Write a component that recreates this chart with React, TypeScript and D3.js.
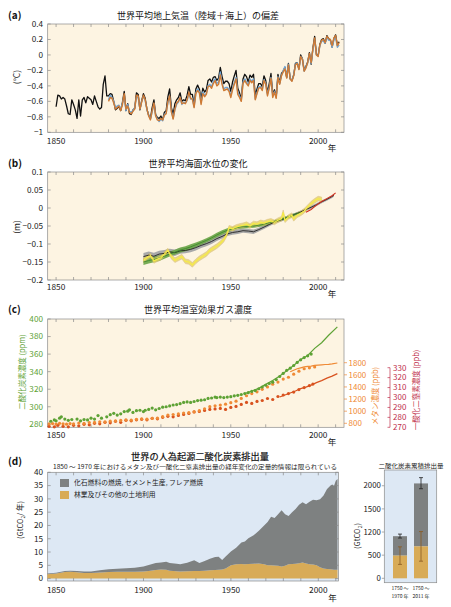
import React from 'react';
import * as d3 from 'd3';

const FONT = "'Noto Sans CJK JP','Noto Sans',sans-serif";

// ---------- (a) temperature anomaly (°C) ----------
const blackStart = 1850;
const tempBlack = [
  -0.67, -0.52, -0.53, -0.57, -0.55, -0.57, -0.66, -0.76, -0.77, -0.58,
  -0.64, -0.71, -0.82, -0.58, -0.79, -0.58, -0.55, -0.62, -0.54, -0.56,
  -0.58, -0.64, -0.53, -0.60, -0.67, -0.70, -0.68, -0.38, -0.27, -0.53,
  -0.53, -0.50, -0.51, -0.60, -0.71, -0.69, -0.67, -0.72, -0.61, -0.47,
  -0.72, -0.63, -0.76, -0.77, -0.71, -0.69, -0.49, -0.51, -0.71, -0.59,
  -0.50, -0.56, -0.70, -0.78, -0.82, -0.68, -0.58, -0.77, -0.81, -0.82,
  -0.79, -0.84, -0.74, -0.72, -0.54, -0.44, -0.68, -0.77, -0.63, -0.58,
  -0.55, -0.49, -0.60, -0.58, -0.59, -0.52, -0.41, -0.51, -0.51, -0.65,
  -0.44, -0.39, -0.44, -0.57, -0.43, -0.48, -0.45, -0.33, -0.31, -0.35,
  -0.29, -0.28, -0.33, -0.30, -0.16, -0.28, -0.37, -0.34, -0.34, -0.37,
  -0.47, -0.35, -0.27, -0.20, -0.43, -0.49, -0.57, -0.31, -0.25, -0.28,
  -0.35, -0.26, -0.29, -0.25, -0.52, -0.44, -0.37, -0.37, -0.41, -0.27,
  -0.33, -0.49, -0.37, -0.24, -0.51, -0.45, -0.54, -0.25, -0.36, -0.24,
  -0.21, -0.16, -0.29, -0.11, -0.31, -0.33, -0.26, -0.11, -0.10, -0.18,
  0.0, -0.05, -0.20, -0.15, -0.09, 0.03, -0.12, 0.09, 0.24, 0.01,
  -0.01, 0.14, 0.20, 0.21, 0.15, 0.25, 0.21, 0.19, 0.10, 0.21,
  0.26, 0.13, 0.17,
];
const colorStart = 1880;
const tempBlue = [
  -0.58, -0.52, -0.55, -0.60, -0.68, -0.66, -0.65, -0.70, -0.62, -0.52,
  -0.72, -0.64, -0.73, -0.74, -0.72, -0.68, -0.55, -0.55, -0.70, -0.60,
  -0.53, -0.59, -0.71, -0.78, -0.83, -0.74, -0.63, -0.78, -0.83, -0.86,
  -0.83, -0.85, -0.77, -0.75, -0.62, -0.54, -0.72, -0.82, -0.71, -0.64,
  -0.61, -0.55, -0.64, -0.61, -0.62, -0.59, -0.49, -0.57, -0.56, -0.67,
  -0.49, -0.44, -0.47, -0.62, -0.48, -0.52, -0.50, -0.40, -0.38, -0.41,
  -0.34, -0.31, -0.37, -0.35, -0.22, -0.36, -0.44, -0.42, -0.42, -0.45,
  -0.53, -0.43, -0.36, -0.29, -0.48, -0.53, -0.59, -0.35, -0.31, -0.35,
  -0.39, -0.31, -0.34, -0.31, -0.57, -0.49, -0.41, -0.41, -0.45, -0.32,
  -0.37, -0.51, -0.42, -0.29, -0.53, -0.47, -0.55, -0.28, -0.37, -0.27,
  -0.20, -0.15, -0.29, -0.12, -0.30, -0.33, -0.26, -0.12, -0.10, -0.18,
  -0.02, -0.05, -0.21, -0.16, -0.10, 0.01, -0.11, 0.07, 0.20, 0.0,
  -0.01, 0.12, 0.18, 0.18, 0.15, 0.23, 0.19, 0.19, 0.10, 0.19,
  0.23, 0.10, 0.13,
];
const tempOrange = [
  -0.60, -0.55, -0.56, -0.62, -0.70, -0.68, -0.66, -0.72, -0.64, -0.50,
  -0.70, -0.66, -0.74, -0.76, -0.73, -0.70, -0.52, -0.53, -0.70, -0.61,
  -0.52, -0.58, -0.70, -0.79, -0.84, -0.72, -0.62, -0.79, -0.84, -0.85,
  -0.82, -0.84, -0.78, -0.76, -0.60, -0.53, -0.74, -0.83, -0.70, -0.62,
  -0.60, -0.55, -0.63, -0.62, -0.63, -0.58, -0.48, -0.56, -0.57, -0.68,
  -0.50, -0.46, -0.49, -0.64, -0.50, -0.54, -0.51, -0.41, -0.40, -0.43,
  -0.37, -0.33, -0.40, -0.38, -0.26, -0.38, -0.46, -0.45, -0.44, -0.47,
  -0.55, -0.45, -0.38, -0.31, -0.51, -0.55, -0.60, -0.37, -0.33, -0.37,
  -0.40, -0.33, -0.36, -0.33, -0.58, -0.50, -0.43, -0.42, -0.46, -0.33,
  -0.38, -0.53, -0.43, -0.30, -0.55, -0.48, -0.56, -0.29, -0.38, -0.27,
  -0.22, -0.18, -0.30, -0.13, -0.31, -0.34, -0.27, -0.13, -0.11, -0.19,
  -0.02, -0.06, -0.21, -0.17, -0.10, 0.02, -0.10, 0.08, 0.22, 0.0,
  -0.02, 0.13, 0.19, 0.20, 0.16, 0.24, 0.21, 0.20, 0.12, 0.22,
  0.25, 0.12, 0.16,
];
const tempTicks = [-1, -0.8, -0.6, -0.4, -0.2, 0, 0.2, 0.4];

// ---------- (b) sea level (m) ----------
const cwYears = [1900, 1903, 1906, 1909, 1912, 1915, 1918, 1921, 1924, 1927, 1930, 1933, 1936, 1939, 1942, 1945, 1948, 1951, 1954, 1957, 1960, 1963, 1966, 1969, 1972, 1975, 1978, 1981, 1984, 1987, 1990, 1993, 1996, 1999, 2002, 2005, 2008, 2009];
const cwLevel = [-0.135, -0.131, -0.134, -0.128, -0.126, -0.122, -0.124, -0.119, -0.118, -0.115, -0.110, -0.104, -0.099, -0.093, -0.085, -0.079, -0.072, -0.068, -0.066, -0.063, -0.064, -0.066, -0.060, -0.053, -0.046, -0.039, -0.034, -0.029, -0.023, -0.017, -0.011, -0.004, 0.002, 0.009, 0.017, 0.024, 0.032, 0.035];
const cwUnc = [0.010, 0.010, 0.010, 0.009, 0.009, 0.009, 0.009, 0.008, 0.008, 0.008, 0.008, 0.007, 0.007, 0.007, 0.007, 0.006, 0.006, 0.006, 0.006, 0.006, 0.006, 0.006, 0.005, 0.005, 0.005, 0.005, 0.005, 0.005, 0.005, 0.004, 0.004, 0.004, 0.004, 0.004, 0.004, 0.004, 0.004, 0.004];
const rdYears = [1900, 1903, 1906, 1909, 1912, 1915, 1918, 1921, 1924, 1927, 1930, 1933, 1936, 1939, 1942, 1945, 1948, 1951, 1954, 1957, 1960, 1963, 1966, 1969, 1972, 1975, 1978, 1981, 1984, 1987, 1990];
const rdLevel = [-0.150, -0.146, -0.143, -0.139, -0.134, -0.128, -0.123, -0.117, -0.113, -0.108, -0.102, -0.096, -0.090, -0.083, -0.075, -0.068, -0.062, -0.058, -0.054, -0.052, -0.051, -0.050, -0.048, -0.045, -0.041, -0.037, -0.033, -0.028, -0.023, -0.018, -0.012];
const rdUnc = [0.008, 0.008, 0.008, 0.008, 0.007, 0.007, 0.007, 0.007, 0.007, 0.007, 0.006, 0.006, 0.006, 0.006, 0.006, 0.006, 0.006, 0.005, 0.005, 0.005, 0.005, 0.005, 0.005, 0.005, 0.005, 0.004, 0.004, 0.004, 0.004, 0.004, 0.004];
const jvYears = [1900, 1902, 1904, 1906, 1908, 1910, 1912, 1914, 1916, 1918, 1920, 1922, 1924, 1926, 1928, 1930, 1932, 1934, 1936, 1938, 1940, 1942, 1944, 1946, 1948, 1949, 1951, 1953, 1955, 1957, 1959, 1961, 1963, 1965, 1967, 1969, 1971, 1973, 1975, 1977, 1979, 1980, 1981, 1983, 1985, 1986, 1988, 1990, 1992, 1994, 1996, 1998, 2000, 2002];
const jvLevel = [-0.145, -0.138, -0.132, -0.147, -0.142, -0.138, -0.128, -0.118, -0.135, -0.145, -0.140, -0.135, -0.148, -0.150, -0.158, -0.148, -0.140, -0.134, -0.128, -0.118, -0.112, -0.106, -0.098, -0.088, -0.070, -0.055, -0.058, -0.053, -0.050, -0.048, -0.045, -0.050, -0.043, -0.045, -0.040, -0.042, -0.038, -0.036, -0.040, -0.034, -0.030, -0.012, -0.034, -0.025, -0.020, -0.030, -0.020, -0.015, -0.008, 0.002, 0.012, 0.020, 0.026, 0.024];
const jvUnc = 0.0065;
const satYears = [1993, 1996, 1999, 2002, 2005, 2008, 2010];
const satLevel = [-0.012, -0.004, 0.008, 0.018, 0.026, 0.034, 0.042];
const seaTicks = [-0.2, -0.15, -0.1, -0.05, 0, 0.05, 0.1];

// ---------- (c) greenhouse gases ----------
const co2Dots: [number, number][] = [
  [1847, 283.5], [1849, 285], [1850, 284], [1852, 287], [1853, 288.5], [1855, 286], [1857, 284.5], [1859, 285.5], [1862, 286], [1864, 284],
  [1866, 285.5], [1868, 285], [1870, 287], [1872, 286], [1874, 290], [1876, 287], [1879, 288.5], [1881, 291], [1883, 292.5], [1885, 290.5],
  [1887, 292], [1889, 294.5], [1891, 295], [1892, 296.5], [1894, 293.5], [1896, 295.5], [1898, 296], [1900, 294.5], [1901, 296], [1903, 297],
  [1905, 298.5], [1907, 296.5], [1909, 298], [1911, 299.5], [1913, 300], [1915, 301], [1917, 302], [1919, 302.5], [1921, 303.5], [1923, 305],
  [1925, 305.5], [1927, 305], [1929, 306], [1931, 307], [1933, 307.5], [1935, 308], [1937, 309.5], [1939, 310], [1941, 311], [1942, 310.5],
  [1944, 311], [1946, 310.5], [1948, 311], [1950, 311.5], [1952, 312.5], [1954, 313], [1956, 314], [1958, 315], [1960, 316], [1962, 317.5],
  [1964, 318.5], [1966, 320.5], [1968, 322.5], [1970, 324.5], [1972, 326.5], [1974, 328], [1976, 331], [1978, 334.5], [1980, 338], [1982, 341.5],
  [1984, 344], [1986, 347], [1988, 350.5], [1990, 353.5], [1992, 356], [1994, 358], [1996, 360],
];
const co2LineYears = [1958, 1962, 1966, 1970, 1974, 1978, 1982, 1986, 1990, 1994, 1998, 2002, 2006, 2011];
const co2Line = [315, 318, 321, 325.5, 330, 335, 341, 347, 354, 358.5, 366.5, 373, 381.5, 391];
const ch4Dots: [number, number][] = [
  [1846, 790], [1848, 795], [1850, 788], [1852, 800], [1854, 792], [1856, 785], [1858, 796], [1860, 790], [1863, 805], [1866, 800],
  [1869, 812], [1872, 815], [1875, 825], [1878, 822], [1881, 835], [1884, 840], [1887, 848], [1890, 855], [1893, 852], [1896, 865],
  [1899, 872], [1902, 868], [1905, 880], [1908, 885], [1911, 910], [1914, 935], [1917, 945], [1920, 955], [1923, 970], [1926, 975],
  [1929, 990], [1932, 1010], [1935, 1040], [1938, 1075], [1941, 1090], [1944, 1100], [1947, 1115], [1950, 1140], [1953, 1165], [1956, 1210],
  [1959, 1255], [1962, 1290], [1965, 1320], [1968, 1360], [1971, 1400], [1974, 1445], [1977, 1480], [1980, 1530], [1983, 1560], [1986, 1610],
  [1989, 1660], [1992, 1700], [1995, 1715], [1998, 1730],
];
const ch4LineYears = [1984, 1986, 1988, 1990, 1992, 1994, 1996, 1998, 2000, 2002, 2004, 2006, 2008, 2011];
const ch4Line = [1650, 1675, 1700, 1715, 1730, 1740, 1745, 1755, 1760, 1765, 1770, 1772, 1780, 1795];
const n2oDots: [number, number][] = [
  [1846, 271], [1849, 270.5], [1851, 272], [1854, 271], [1857, 270.5], [1860, 272], [1863, 271.5], [1866, 273], [1869, 272.5], [1872, 274],
  [1875, 273.5], [1878, 275], [1881, 274.5], [1884, 276], [1887, 275], [1890, 277], [1893, 276.5], [1896, 277.5], [1899, 278], [1902, 277.5],
  [1905, 279], [1908, 278.5], [1911, 280], [1914, 281], [1917, 280.5], [1920, 282], [1923, 283], [1926, 284], [1929, 285.5], [1932, 286],
  [1935, 287], [1938, 288], [1941, 288.5], [1944, 289], [1947, 288], [1950, 290], [1953, 291], [1956, 293], [1959, 295], [1962, 294],
  [1965, 296], [1968, 297], [1971, 299], [1974, 298], [1977, 301], [1980, 302.5], [1983, 304], [1986, 305.5], [1989, 308], [1992, 310],
  [1995, 312], [1997, 313.5],
];
const n2oLineYears = [1978, 1981, 1984, 1987, 1990, 1993, 1996, 1999, 2002, 2005, 2008, 2011];
const n2oLine = [300.5, 302.5, 304.5, 306.5, 309, 310.5, 312.5, 315, 317, 319.5, 321.5, 324];
const co2Ticks = [280, 300, 320, 340, 360, 380, 400];
const ch4Ticks = [800, 1000, 1200, 1400, 1600, 1800];
const n2oTicks = [270, 280, 290, 300, 310, 320, 330];

// ---------- (d) CO2 emissions (GtCO2/yr) ----------
const emisYears = [1845, 1850, 1855, 1858, 1862, 1866, 1870, 1875, 1880, 1885, 1890, 1895, 1900, 1903, 1907, 1910, 1913, 1915, 1919, 1921, 1925, 1929, 1932, 1935, 1938, 1941, 1943, 1945, 1947, 1950, 1953, 1956, 1958, 1960, 1963, 1966, 1969, 1971, 1973, 1975, 1977, 1979, 1981, 1983, 1985, 1987, 1989, 1991, 1993, 1995, 1997, 1999, 2001, 2003, 2005, 2007, 2008, 2009, 2010, 2011];
const landUse = [1.6, 1.9, 2.5, 2.6, 2.4, 2.1, 2.1, 2.3, 2.5, 2.6, 2.6, 2.6, 2.7, 2.9, 3.2, 3.4, 3.3, 3.0, 2.8, 2.7, 2.8, 2.9, 2.9, 3.0, 3.1, 3.2, 3.3, 3.4, 3.8, 5.0, 5.4, 5.5, 5.4, 5.5, 5.6, 5.7, 5.4, 5.0, 5.0, 4.9, 4.8, 4.6, 4.8, 5.4, 5.5, 5.6, 5.8, 6.1, 5.7, 5.4, 5.3, 5.0, 4.3, 3.8, 3.6, 3.5, 3.4, 3.3, 3.3, 3.3];
const fossil = [0.3, 0.3, 0.4, 0.4, 0.5, 0.6, 0.6, 0.8, 1.0, 1.1, 1.3, 1.5, 1.9, 2.2, 2.7, 2.7, 3.0, 2.9, 2.8, 2.7, 3.2, 4.0, 3.0, 3.6, 4.4, 4.9, 4.9, 3.6, 4.5, 5.2, 6.2, 8.1, 8.6, 9.7, 10.7, 12.3, 14.6, 16.3, 18.3, 17.9, 19.4, 21.1, 19.4, 18.2, 19.5, 20.6, 22.0, 22.6, 22.3, 23.5, 24.4, 24.5, 25.6, 27.5, 30.1, 31.5, 32.0, 31.6, 33.5, 34.2];
const emisTicks = [0, 5, 10, 15, 20, 25, 30, 35, 40];

// cumulative bars (GtCO2)
const cumCats = ['1750-1970', '1750-2011'];
const cumLabels1 = ['1750 ～', '1750 ～'];
const cumLabels2 = ['1970 年', '2011 年'];
const cumLand = [490, 690];
const cumTotal = [910, 2050];
const cumLandErr: [number, number][] = [[300, 680], [370, 1010]];
const cumTotalErr: [number, number][] = [[870, 955], [1935, 2175]];
const cumTicks = [0, 500, 1000, 1500, 2000];
const cumTickLabels = ['0', '500', '1200', '1500', '2000'];

const decadeTicks = [1850, 1860, 1870, 1880, 1890, 1900, 1910, 1920, 1930, 1940, 1950, 1960, 1970, 1980, 1990, 2000, 2010];
const yearLabels = [1850, 1900, 1950, 2000];

// ---------- layout ----------
const XL = 47.7, XR = 344, XR_D = 338.4;
const xYear = d3.scaleLinear().domain([1845.2, 2014.8]).range([XL, XR]);
const xYearD = d3.scaleLinear().domain([1845.2, 2011.5]).range([XL, XR_D]);
const yA = d3.scaleLinear().domain([-1, 0.4]).range([132.3, 24]);
const yB = d3.scaleLinear().domain([-0.2, 0.1]).range([280, 172]);
const yCO2 = d3.scaleLinear().domain([276.6, 400]).range([427.3, 319]);
const yCH4 = d3.scaleLinear().domain([800, 1800]).range([423.3, 362.7]);
const yN2O = d3.scaleLinear().domain([270, 330]).range([427.3, 367.7]);
const yD = d3.scaleLinear().domain([-0.9, 40]).range([581, 472.3]);
const yBar = d3.scaleLinear().domain([-95, 2340]).range([582.7, 470]);
const xBar = d3.scaleBand<string>().domain(cumCats).range([384.3, 436.7]).paddingInner(1 / 3).paddingOuter(0.414);

const CREAM = '#fdf4e2';
const BLUEBG = '#dde8f4';
const FRAME = '#8a8a8a';
const GREY = '#7e8181';
const GOLD = '#d8ab57';
const CO2C = '#5ea235';
const CH4C = '#ef8a35';
const N2OC = '#d8521f';
const N2OAX = '#c0304c';

const fmt = (v: number) => {
  const a = Math.abs(v);
  const s = String(+a.toFixed(2));
  return (v < 0 ? '−' : '') + s;
};

function yearLine(values: number[], start: number, y: d3.ScaleLinear<number, number>) {
  return d3.line<number>().x((_, i) => xYear(start + i)).y((d) => y(d))(values) || '';
}
function xyLine(xs: number[], ys: number[], x: any, y: any) {
  return d3.line<number>().x((_, i) => x(xs[i])).y((d) => y(d))(ys) || '';
}
function band(xs: number[], ys: number[], unc: number[] | number, y: any) {
  const u = (i: number) => (Array.isArray(unc) ? unc[i] : unc);
  return d3.area<number>().x((_, i) => xYear(xs[i])).y0((d, i) => y(d - u(i))).y1((d, i) => y(d + u(i)))(ys) || '';
}

function XTicks({ x, top, bottom, maxYear, labelY, color = '#222' }: any) {
  const years = decadeTicks.filter((t) => t <= maxYear);
  return (
    <g>
      {years.map((t) => (
        <g key={t}>
          <line x1={x(t)} x2={x(t)} y1={top} y2={top + 3} stroke={FRAME} strokeWidth={0.7} />
          <line x1={x(t)} x2={x(t)} y1={bottom} y2={bottom - 3} stroke={FRAME} strokeWidth={0.7} />
        </g>
      ))}
      {yearLabels.map((t) => (
        <text key={'l' + t} x={x(t)} y={labelY} fontSize={8.3} textAnchor="middle" fill={color}>{t}</text>
      ))}
      <text x={332} y={labelY + 7} fontSize={8.5} textAnchor="middle" fill="#222">年</text>
    </g>
  );
}

function YTicks({ y, ticks, left, right, labelFn = fmt, color = '#222', both = true }: any) {
  return (
    <g>
      {ticks.map((t: number) => (
        <g key={t}>
          <line x1={left} x2={left + 3} y1={y(t)} y2={y(t)} stroke={FRAME} strokeWidth={0.7} />
          {both && <line x1={right} x2={right - 3} y1={y(t)} y2={y(t)} stroke={FRAME} strokeWidth={0.7} />}
          <text x={43} y={y(t)} dy="0.35em" fontSize={8.2} textAnchor="end" fill={color}>{labelFn(t)}</text>
        </g>
      ))}
    </g>
  );
}

function PanelHead({ label, title, y }: { label: string; title: string; y: number }) {
  return (
    <g>
      <text x={8} y={y} fontSize={10} fontWeight="bold" fill="#111">{label}</text>
      <text x={198} y={y} fontSize={9} textAnchor="middle" fill="#111">{title}</text>
    </g>
  );
}

export default function App() {
  const table = emisYears.map((yr, i) => ({ year: yr, land: landUse[i], fossil: fossil[i] }));
  const stack = d3.stack<any>().keys(['land', 'fossil'])(table);
  const areaD = d3.area<any>().x((d) => xYearD(d.data.year)).y0((d) => yD(d[0])).y1((d) => yD(d[1]));

  return (
    <svg width={451} height={607} style={{ position: 'absolute', left: 0, top: 0, background: '#fff' }} fontFamily={FONT}>
      {/* ---------------- (a) ---------------- */}
      <PanelHead label="(a)" title="世界平均地上気温（陸域＋海上）の偏差" y={18.5} />
      <rect x={XL} y={24} width={XR - XL} height={132.3 - 24} fill={CREAM} stroke={FRAME} strokeWidth={0.7} />
      <XTicks x={xYear} top={24} bottom={132.3} maxYear={2010} labelY={144} />
      <YTicks y={yA} ticks={tempTicks} left={XL} right={XR} />
      <text transform="translate(17,77) rotate(-90)" fontSize={8.5} textAnchor="middle" dy="0.35em" fill="#222">(°C)</text>
      <path d={yearLine(tempBlack, blackStart, yA)} fill="none" stroke="#111" strokeWidth={1.3} strokeLinejoin="round" />
      <path d={yearLine(tempBlue, colorStart, yA)} fill="none" stroke="#6ea5d6" strokeWidth={1.4} strokeLinejoin="round" />
      <path d={yearLine(tempOrange, colorStart, yA)} fill="none" stroke="#cf7a34" strokeWidth={1.4} strokeLinejoin="round" />

      {/* ---------------- (b) ---------------- */}
      <PanelHead label="(b)" title="世界平均海面水位の変化" y={167.4} />
      <rect x={XL} y={172} width={XR - XL} height={280 - 172} fill={CREAM} stroke={FRAME} strokeWidth={0.7} />
      <XTicks x={xYear} top={172} bottom={280} maxYear={2010} labelY={290.3} />
      <YTicks y={yB} ticks={seaTicks} left={XL} right={XR} />
      <text transform="translate(17,227) rotate(-90)" fontSize={8.5} textAnchor="middle" dy="0.35em" fill="#222">(m)</text>
      <path d={band(cwYears, cwLevel, cwUnc, yB)} fill="#a9a9a9" />
      <path d={band(rdYears, rdLevel, rdUnc, yB)} fill="#69a446" opacity={0.9} />
      <path d={band(jvYears, jvLevel, jvUnc, yB)} fill="#e6d06a" stroke="#d2b46a" strokeWidth={0.5} opacity={0.8} />
      <path d={xyLine(cwYears, cwLevel, xYear, yB)} fill="none" stroke="#222" strokeWidth={0.9} />
      <path d={xyLine(rdYears, rdLevel, xYear, yB)} fill="none" stroke="#3f8a2c" strokeWidth={0.9} />
      <path d={xyLine(jvYears, jvLevel, xYear, yB)} fill="none" stroke="#f6ec45" strokeWidth={1.2} />
      <path d={xyLine(satYears, satLevel, xYear, yB)} fill="none" stroke="#d4301e" strokeWidth={1.1} />

      {/* ---------------- (c) ---------------- */}
      <PanelHead label="(c)" title="世界平均温室効果ガス濃度" y={313.4} />
      <rect x={XL} y={319} width={XR - XL} height={427.3 - 319} fill={CREAM} stroke={FRAME} strokeWidth={0.7} />
      <XTicks x={xYear} top={319} bottom={427.3} maxYear={2010} labelY={438} />
      <YTicks y={yCO2} ticks={co2Ticks} left={XL} right={XR} both={false} labelFn={(t: number) => String(t)} color={CO2C} />
      <text transform="translate(22,372) rotate(-90)" fontSize={7.5} textAnchor="middle" dy="0.35em" fill={CO2C}>二酸化炭素濃度 (ppm)</text>
      {ch4Ticks.map((t) => (
        <g key={'ch4' + t}>
          <line x1={XR} x2={XR + 3} y1={yCH4(t)} y2={yCH4(t)} stroke={CH4C} strokeWidth={0.7} />
          <text x={XR + 4.5} y={yCH4(t)} dy="0.35em" fontSize={8} fill={CH4C}>{t}</text>
        </g>
      ))}
      <text transform="translate(375,396) rotate(-90)" fontSize={7.5} textAnchor="middle" dy="0.35em" fill={CH4C}>メタン濃度 (ppb)</text>
      <line x1={390} x2={390} y1={yN2O(330)} y2={yN2O(270)} stroke={N2OAX} strokeWidth={0.7} />
      {n2oTicks.map((t) => (
        <g key={'n2o' + t}>
          <line x1={387.5} x2={390} y1={yN2O(t)} y2={yN2O(t)} stroke={N2OAX} strokeWidth={0.7} />
          <text x={393} y={yN2O(t)} dy="0.35em" fontSize={8} fill={N2OAX}>{t}</text>
        </g>
      ))}
      <text transform="translate(416.5,390) rotate(-90)" fontSize={7.5} textAnchor="middle" dy="0.35em" fill={N2OAX}>一酸化二窒素濃度 (ppb)</text>
      {n2oDots.map(([yr, v], i) => (
        <circle key={'nd' + i} cx={xYear(yr)} cy={yN2O(v)} r={1.6} fill={N2OC} />
      ))}
      {ch4Dots.map(([yr, v], i) => (
        <circle key={'cd' + i} cx={xYear(yr)} cy={yCH4(v)} r={1.6} fill={CH4C} />
      ))}
      {co2Dots.map(([yr, v], i) => (
        <circle key={'od' + i} cx={xYear(yr)} cy={yCO2(v)} r={1.6} fill={CO2C} />
      ))}
      <path d={xyLine(n2oLineYears, n2oLine, xYear, yN2O)} fill="none" stroke={N2OC} strokeWidth={1.2} />
      <path d={xyLine(ch4LineYears, ch4Line, xYear, yCH4)} fill="none" stroke={CH4C} strokeWidth={1.2} />
      <path d={xyLine(co2LineYears, co2Line, xYear, yCO2)} fill="none" stroke={CO2C} strokeWidth={1.2} />

      {/* ---------------- (d) ---------------- */}
      <text x={8} y={465} fontSize={10} fontWeight="bold" fill="#111">(d)</text>
      <text x={200} y={460} fontSize={9.2} textAnchor="middle" fill="#111" stroke="#111" strokeWidth={0.2}>世界の人為起源二酸化炭素排出量</text>
      <text x={53} y={468.5} fontSize={5.8} textLength={284} lengthAdjust="spacingAndGlyphs" fill="#222">1850 ～ 1970 年におけるメタン及び一酸化二窒素排出量の経年変化の定量的情報は限られている</text>
      <rect x={XL} y={472.3} width={XR_D - XL} height={581 - 472.3} fill={BLUEBG} stroke={FRAME} strokeWidth={0.7} />
      <path d={areaD(stack[0] as any) || ''} fill={GOLD} />
      <path d={areaD(stack[1] as any) || ''} fill={GREY} />
      {decadeTicks.map((t) => (
        <g key={'dt' + t}>
          <line x1={xYearD(t)} x2={xYearD(t)} y1={472.3} y2={475.3} stroke={FRAME} strokeWidth={0.7} />
          <line x1={xYearD(t)} x2={xYearD(t)} y1={581} y2={578} stroke={FRAME} strokeWidth={0.7} />
        </g>
      ))}
      {yearLabels.map((t) => (
        <text key={'dl' + t} x={xYearD(t)} y={593} fontSize={8.3} textAnchor="middle" fill="#222">{t}</text>
      ))}
      <text x={332.5} y={601} fontSize={8.5} textAnchor="middle" fill="#222">年</text>
      <YTicks y={yD} ticks={emisTicks} left={XL} right={XR_D} labelFn={(t: number) => String(t)} />
      <text transform="translate(20,520) rotate(-90)" fontSize={7.5} textAnchor="middle" dy="0.35em" fill="#222">
        (GtCO<tspan fontSize={5} dy="2">2</tspan><tspan dy="-2">/ 年)</tspan>
      </text>
      <rect x={60} y={479} width={9} height={8} fill={GREY} />
      <text x={74} y={483} dy="0.35em" fontSize={6.8} fill="#222">化石燃料の燃焼, セメント生産, フレア燃焼</text>
      <rect x={60} y={491} width={9} height={8} fill={GOLD} />
      <text x={74} y={495} dy="0.35em" fontSize={6.8} fill="#222">林業及びその他の土地利用</text>

      {/* cumulative bars */}
      <text x={411} y={467.5} fontSize={6} textLength={65} lengthAdjust="spacingAndGlyphs" textAnchor="middle" fill="#222">二酸化炭素累積排出量</text>
      <rect x={384.3} y={470} width={436.7 - 384.3} height={582.7 - 470} fill={BLUEBG} stroke={FRAME} strokeWidth={0.7} />
      {cumTicks.map((t, i) => (
        <g key={'ct' + t}>
          <line x1={381.8} x2={384.3} y1={yBar(t)} y2={yBar(t)} stroke={FRAME} strokeWidth={0.7} />
          <text x={380.8} y={yBar(t)} dy="0.35em" fontSize={7.8} textAnchor="end" fill="#222">{cumTickLabels[i]}</text>
        </g>
      ))}
      <text transform="translate(357,536) rotate(-90)" fontSize={7.5} textAnchor="middle" dy="0.35em" fill="#222">
        (GtCO<tspan fontSize={5} dy="2">2</tspan><tspan dy="-2">)</tspan>
      </text>
      {cumCats.map((c, i) => {
        const x0 = xBar(c) as number;
        const w = xBar.bandwidth();
        const cx = x0 + w / 2;
        return (
          <g key={c}>
            <rect x={x0} y={yBar(cumTotal[i])} width={w} height={yBar(cumLand[i]) - yBar(cumTotal[i])} fill={GREY} />
            <rect x={x0} y={yBar(cumLand[i])} width={w} height={yBar(0) - yBar(cumLand[i])} fill={GOLD} />
            <line x1={cx} x2={cx} y1={yBar(cumTotalErr[i][0])} y2={yBar(cumTotalErr[i][1])} stroke="#222" strokeWidth={0.8} />
            <line x1={cx - 2} x2={cx + 2} y1={yBar(cumTotalErr[i][0])} y2={yBar(cumTotalErr[i][0])} stroke="#222" strokeWidth={0.8} />
            <line x1={cx - 2} x2={cx + 2} y1={yBar(cumTotalErr[i][1])} y2={yBar(cumTotalErr[i][1])} stroke="#222" strokeWidth={0.8} />
            <line x1={cx} x2={cx} y1={yBar(cumLandErr[i][0])} y2={yBar(cumLandErr[i][1])} stroke="#8a5a22" strokeWidth={0.8} />
            <line x1={cx - 2} x2={cx + 2} y1={yBar(cumLandErr[i][0])} y2={yBar(cumLandErr[i][0])} stroke="#8a5a22" strokeWidth={0.8} />
            <line x1={cx - 2} x2={cx + 2} y1={yBar(cumLandErr[i][1])} y2={yBar(cumLandErr[i][1])} stroke="#8a5a22" strokeWidth={0.8} />
            <text x={cx} y={590} fontSize={5} textAnchor="middle" fill="#222">{cumLabels1[i]}</text>
            <text x={cx} y={597.5} fontSize={5} textAnchor="middle" fill="#222">{cumLabels2[i]}</text>
          </g>
        );
      })}
    </svg>
  );
}
